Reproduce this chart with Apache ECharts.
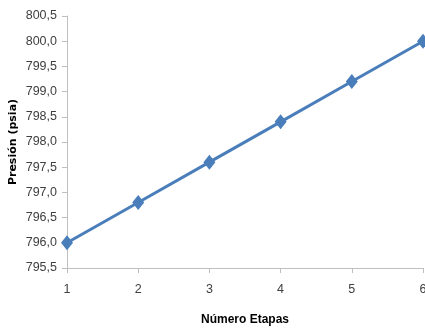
<!DOCTYPE html>
<html>
<head>
<meta charset="utf-8">
<script src="https://cdn.jsdelivr.net/npm/echarts@6/dist/echarts.min.js"></script>
<style>
  html, body { margin: 0; padding: 0; background: #fff; }
  #chart { width: 425px; height: 330px; }
</style>
</head>
<body>
<div id="chart"></div>
<script>
// Pressure per number of stages
const etapas = ['1', '2', '3', '4', '5', '6'];
const presion = [796.0, 796.8, 797.6, 798.4, 799.2, 800.0];

const axisFont = '"Liberation Sans", sans-serif';

const chart = echarts.init(document.getElementById('chart'), null, { renderer: 'canvas' });
chart.setOption({
  animation: false,
  grid: { left: 67, right: 2, top: 16, bottom: 62, containLabel: false, outerBoundsMode: 'none' },
  xAxis: {
    type: 'category',
    data: etapas,
    boundaryGap: false,
    name: 'Número Etapas',
    nameLocation: 'middle',
    nameGap: 46,
    nameMoveOverlap: false,
    nameTextStyle: { fontFamily: '"Liberation Sans", sans-serif', fontWeight: 'bold', fontSize: 12, color: '#000' },
    axisLine: { lineStyle: { color: '#bfbfbf', width: 1 } },
    axisTick: { show: true, alignWithLabel: true, length: 5, lineStyle: { color: '#bfbfbf' } },
    axisLabel: { fontFamily: axisFont, fontSize: 12.5, color: '#404040', margin: 15 },
    splitLine: { show: false }
  },
  yAxis: {
    type: 'value',
    min: 795.5,
    max: 800.5,
    interval: 0.5,
    name: 'Presión (psia)',
    nameLocation: 'middle',
    nameGap: 48,
    nameMoveOverlap: false,
    nameRotate: 90,
    nameTextStyle: { fontFamily: '"DejaVu Sans", sans-serif', fontWeight: 'bold', fontSize: 11, color: '#000' },
    axisLine: { show: true, lineStyle: { color: '#bfbfbf', width: 1 } },
    axisTick: { show: true, length: 5, lineStyle: { color: '#bfbfbf' } },
    axisLabel: {
      fontFamily: axisFont, fontSize: 12.5, color: '#404040', margin: 10,
      formatter: v => v.toFixed(1).replace('.', ',')
    },
    splitLine: { show: false }
  },
  series: [{
    type: 'line',
    data: presion,
    symbol: 'diamond',
    symbolSize: [12, 15],
    lineStyle: { color: '#4a7ebb', width: 3 },
    itemStyle: { color: '#4a7ebb' },
    clip: false
  }]
});
</script>
</body>
</html>
